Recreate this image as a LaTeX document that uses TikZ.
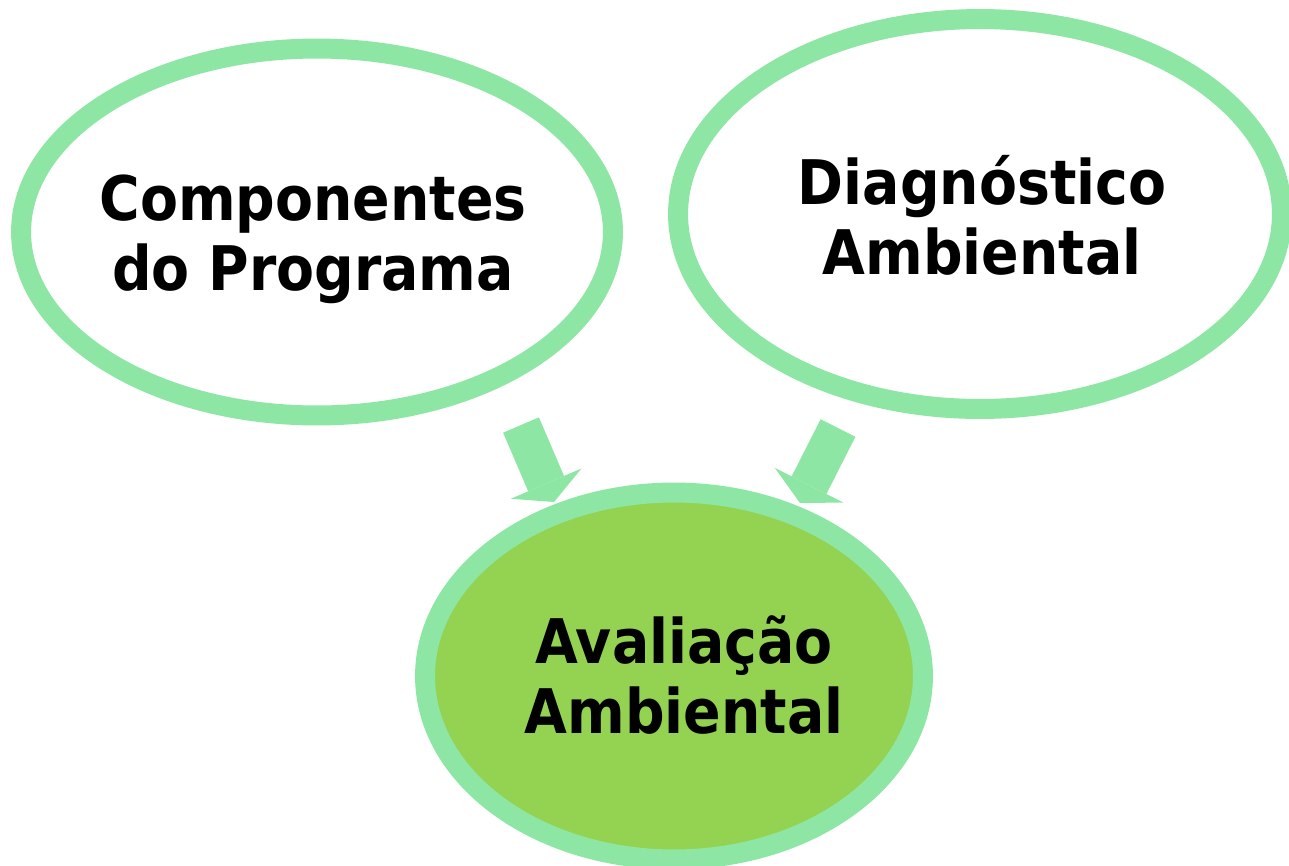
\documentclass[tikz,border=0pt]{standalone}
\usepackage{fontspec}
\newfontfamily\lblfont{DejaVu Sans Condensed}
\usetikzlibrary{shapes.geometric,arrows.meta}
\definecolor{ringgreen}{RGB}{142,230,164}
\definecolor{leafgreen}{RGB}{148,211,82}

\begin{document}
\begin{tikzpicture}[x=0.02cm,y=-0.02cm,
  bubble/.style={ellipse, draw=ringgreen, line width=0.4cm, inner sep=0pt},
  caption/.style={align=center, inner sep=0pt, font=\lblfont\bfseries\fontsize{35}{40}\selectfont},
  flow/.style={ringgreen, line width=0.78cm, -{Triangle[length=0.4cm,width=1.54cm,line width=0pt]}}]
  \useasboundingbox (0,0) rectangle (1289,866);
  % the three ellipses
  \node[bubble, minimum width=11.84cm, minimum height=7.34cm] (comp) at (317,232) {};
  \node[bubble, minimum width=12.08cm, minimum height=7.8cm] (diag) at (980,214) {};
  \node[bubble, fill=leafgreen, minimum width=9.96cm, minimum height=7.34cm] (aval) at (674,676) {};
  % their texts
  \node[caption, xshift=-0.08cm, yshift=-0.14cm] (comptxt) at (comp) {Componentes\\do Programa};
  \node[caption, xshift=0.04cm, yshift=-0.02cm] (diagtxt) at (diag) {Diagnóstico\\Ambiental};
  \node[caption, xshift=0.2cm, yshift=0.02cm] (avaltxt) at (aval) {Avaliação\\Ambiental};
  % block arrows
  \coordinate (compout) at (521,425);
  \coordinate (compin) at (554,502);
  \coordinate (diagout) at (838,428);
  \coordinate (diagin) at (800,503);
  \draw[flow] (compout) -- (compin);
  \draw[flow] (diagout) -- (diagin);
\end{tikzpicture}
\end{document}
